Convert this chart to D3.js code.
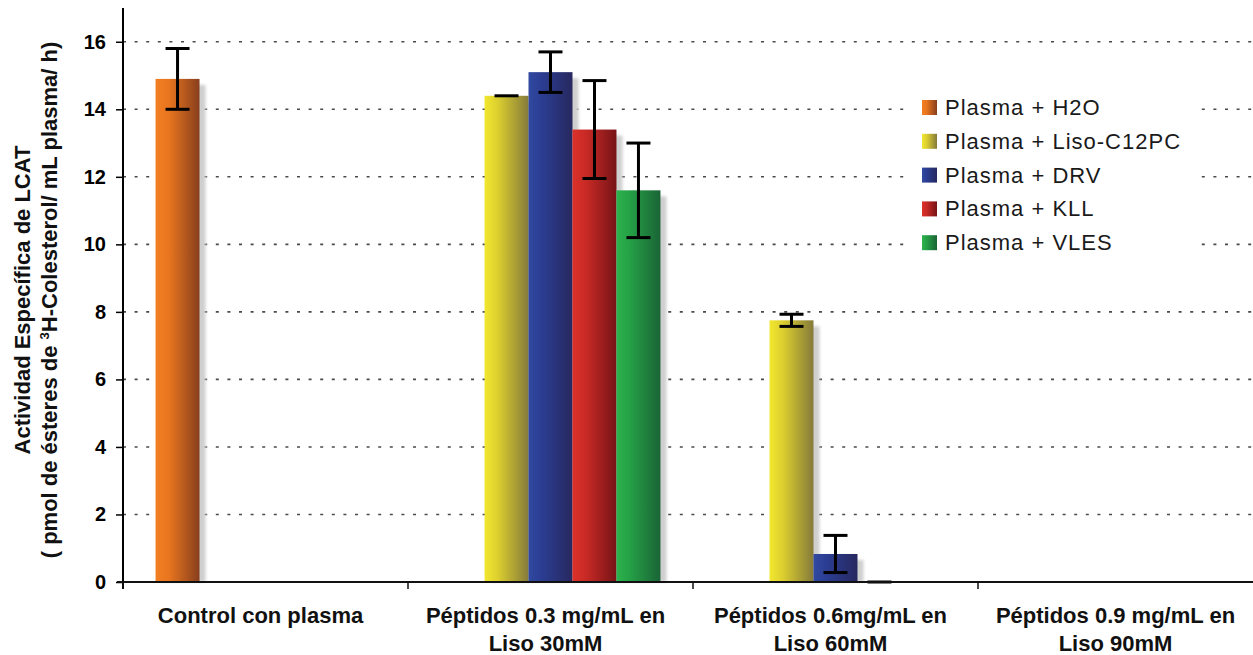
<!DOCTYPE html>
<html>
<head>
<meta charset="utf-8">
<script src="https://cdn.jsdelivr.net/npm/d3@7"></script>
<style>
  html, body { margin: 0; padding: 0; background: #fff; }
  svg { display: block; font-family: "Liberation Sans", Arial, sans-serif; }
</style>
</head>
<body>
<svg id="chart" width="1253" height="655"></svg>
<script>
// Category labels (each split into its printed lines)
const categories = [
  ["Control con plasma"],
  ["Péptidos 0.3 mg/mL en", "Liso 30mM"],
  ["Péptidos 0.6mg/mL en", "Liso 60mM"],
  ["Péptidos 0.9 mg/mL en", "Liso 90mM"]
];
const seriesNames = ["Plasma + H2O", "Plasma + Liso-C12PC", "Plasma + DRV", "Plasma + KLL", "Plasma + VLES"];

// Mean activity per category (null = not measured)
const h2oValues  = [14.9, null, null, null];
const lisoValues = [null, 14.4, 7.75, null];
const drvValues  = [null, 15.1, 0.83, null];
const kllValues  = [null, 13.4, 0, null];
const vlesValues = [null, 11.6, null, null];

// Error (± half range) per category
const h2oErrors  = [0.9, null, null, null];
const lisoErrors = [null, 0, 0.18, null];
const drvErrors  = [null, 0.6, 0.55, null];
const kllErrors  = [null, 1.45, 0, null];
const vlesErrors = [null, 1.4, null, null];

const yTicks = [0, 2, 4, 6, 8, 10, 12, 14, 16];

// Bar colours: light (left) to dark (right)
const palette = [
  ["#f27f22", "#e9761f", "#873e1d"],
  ["#f2e72e", "#dccf2f", "#857a3a"],
  ["#3049a1", "#2b3d92", "#27285f"],
  ["#db312a", "#c92a25", "#771317"],
  ["#2db34d", "#25a046", "#1a6436"]
];

const values = [h2oValues, lisoValues, drvValues, kllValues, vlesValues];
const errors = [h2oErrors, lisoErrors, drvErrors, kllErrors, vlesErrors];

const svg = d3.select("#chart");
const plotLeft = 123, plotRight = 1263, plotTop = 8, plotBottom = 582;

const y = d3.scaleLinear().domain([0, 17]).range([plotBottom, plotTop]);
const x0 = d3.scaleBand().domain(d3.range(categories.length)).range([plotLeft, plotRight]).padding(0);
const x1 = d3.scaleBand().domain(d3.range(seriesNames.length)).range([0, x0.bandwidth()])
  .paddingInner(0).paddingOuter(0.74);

const defs = svg.append("defs");
palette.forEach((c, i) => {
  const g = defs.append("linearGradient").attr("id", "grad" + i)
    .attr("x1", "0%").attr("x2", "100%").attr("y1", "0%").attr("y2", "0%");
  g.append("stop").attr("offset", "0%").attr("stop-color", c[0]);
  g.append("stop").attr("offset", "30%").attr("stop-color", c[1]);
  g.append("stop").attr("offset", "100%").attr("stop-color", c[2]);
});
const blur = defs.append("filter").attr("id", "soft").attr("x", "-50%").attr("y", "-10%")
  .attr("width", "200%").attr("height", "120%");
blur.append("feGaussianBlur").attr("stdDeviation", 1.6);

// Dotted horizontal gridlines
svg.append("g").selectAll("line").data(yTicks.filter(d => d > 0)).join("line")
  .attr("x1", plotLeft).attr("x2", 1253)
  .attr("y1", d => y(d)).attr("y2", d => y(d))
  .attr("stroke", "#4a4a4a").attr("stroke-width", 1.6)
  .attr("stroke-dasharray", "3,8.6");

// Flattened bar records
const bars = [];
values.forEach((arr, s) => arr.forEach((v, c) => {
  if (v !== null) bars.push({ s, c, v, e: errors[s][c] });
}));
const bx = d => x0(d.c) + x1(d.s);
const bw = x1.bandwidth();

// Drop shadows behind bars
svg.append("g").selectAll("rect").data(bars.filter(d => d.v > 0)).join("rect")
  .attr("x", d => bx(d) + 6).attr("width", bw)
  .attr("y", d => y(d.v) + 6).attr("height", d => plotBottom - y(d.v) - 6)
  .attr("fill", "#cfcfcf").attr("filter", "url(#soft)");

// Bars
svg.append("g").selectAll("rect").data(bars.filter(d => d.v > 0)).join("rect")
  .attr("x", bx).attr("width", bw)
  .attr("y", d => y(d.v)).attr("height", d => plotBottom - y(d.v))
  .attr("fill", d => "url(#grad" + d.s + ")");

// Error bars
const eg = svg.append("g").attr("stroke", "#000").attr("stroke-width", 3).attr("fill", "none");
bars.forEach(d => {
  const cx = bx(d) + bw / 2, hw = 12;
  const hi = y(d.v + d.e), lo = y(Math.max(0, d.v - d.e));
  if (d.e > 0) eg.append("line").attr("x1", cx).attr("x2", cx).attr("y1", hi).attr("y2", lo);
  eg.append("line").attr("x1", cx - hw).attr("x2", cx + hw).attr("y1", hi).attr("y2", hi);
  if (d.e > 0) eg.append("line").attr("x1", cx - hw).attr("x2", cx + hw).attr("y1", lo).attr("y2", lo);
});

// Y axis
const yAxis = svg.append("g").attr("transform", `translate(${plotLeft},0)`)
  .call(d3.axisLeft(y).tickValues(yTicks).tickSize(7).tickPadding(10).tickSizeOuter(0));
yAxis.select(".domain").remove();
yAxis.append("line").attr("x1", 0).attr("x2", 0).attr("y1", plotTop).attr("y2", plotBottom + 7)
  .attr("stroke", "#000").attr("stroke-width", 2);
yAxis.selectAll(".tick line").attr("stroke", "#000").attr("stroke-width", 1.5);
yAxis.selectAll(".tick text").attr("font-size", 20).attr("font-weight", "bold")
  .attr("fill", "#000").attr("font-family", "Liberation Sans, Arial, sans-serif");

// X axis
const xAxis = svg.append("g").attr("transform", `translate(0,${plotBottom})`);
xAxis.append("line").attr("x1", plotLeft - 6).attr("x2", 1253).attr("y1", 0).attr("y2", 0)
  .attr("stroke", "#111").attr("stroke-width", 2);
xAxis.selectAll("line.tk").data(d3.range(categories.length + 1)).join("line").attr("class", "tk")
  .attr("x1", i => i < categories.length ? x0(i) : plotRight).attr("x2", i => i < categories.length ? x0(i) : plotRight)
  .attr("y1", 0).attr("y2", 7).attr("stroke", "#111").attr("stroke-width", 1.5);
const lab = xAxis.selectAll("text").data(categories).join("text")
  .attr("text-anchor", "middle").attr("font-size", 22).attr("font-weight", "bold").attr("fill", "#111")
  .attr("transform", (d, i) => `translate(${x0(i) + x0.bandwidth() / 2 - 5},41)`);
lab.selectAll("tspan").data(d => d).join("tspan")
  .attr("x", 0).attr("dy", (d, i) => i === 0 ? 0 : 28).text(d => d);

// Y axis title (two lines, rotated)
const yt = svg.append("text").attr("font-weight", "bold").attr("font-size", 22).attr("fill", "#111")
  .attr("text-anchor", "middle").attr("transform", "translate(30,300) rotate(-90)");
yt.append("tspan").attr("x", 0).attr("y", 0).text("Actividad Específica de LCAT");
const l2 = yt.append("tspan").attr("x", 0).attr("y", 27);
l2.append("tspan").text("( pmol de ésteres de ");
l2.append("tspan").attr("font-size", 13).attr("dy", -8).text("3");
l2.append("tspan").attr("dy", 8).text("H-Colesterol/ mL plasma/ h)");

// Legend
const lg = svg.append("g");
lg.append("rect").attr("x", 905).attr("y", 86).attr("width", 294).attr("height", 176).attr("fill", "#fff");
const items = lg.selectAll("g").data(seriesNames).join("g")
  .attr("transform", (d, i) => `translate(922,${100 + i * 33.8})`);
items.append("rect").attr("width", 15).attr("height", 15).attr("fill", (d, i) => "url(#grad" + i + ")");
items.append("text").attr("x", 23).attr("y", 15).attr("font-size", 22)
  .attr("letter-spacing", 1).attr("fill", "#1a1a1a").text(d => d);
</script>
</body>
</html>
